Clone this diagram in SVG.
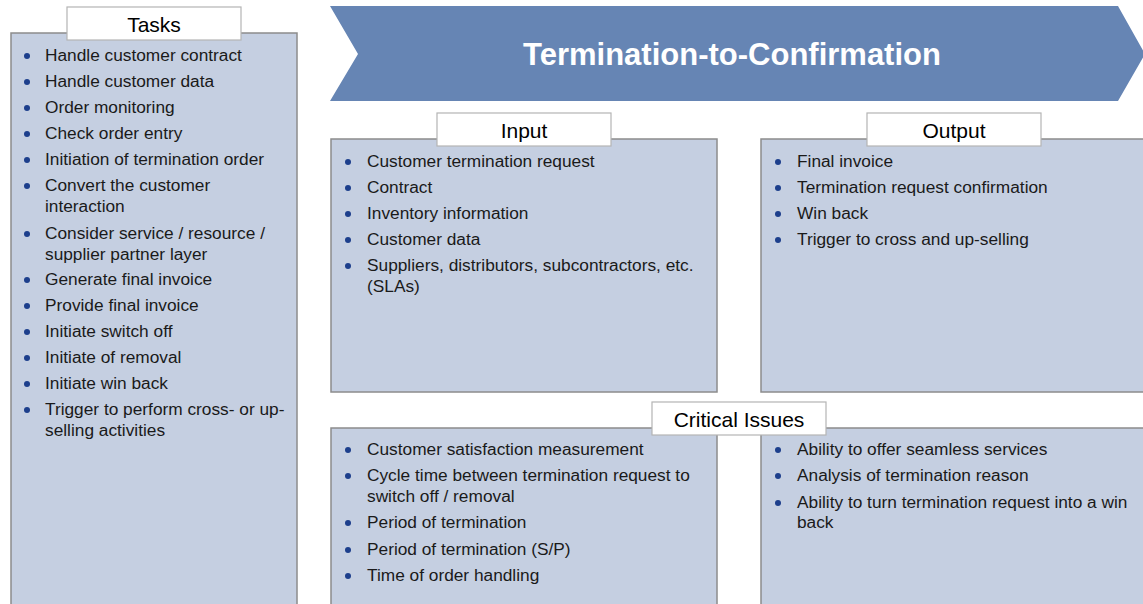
<svg xmlns="http://www.w3.org/2000/svg" width="1143" height="604" viewBox="0 0 1143 604">
<style>
.box{fill:#c5cfe1;stroke:#8c8c8c;stroke-width:1.5}
.lbl{fill:#ffffff;stroke:#b4b4b4;stroke-width:1.2}
.lt{font-family:"Liberation Sans",Arial,sans-serif;font-size:21px;fill:#000;text-anchor:middle}
.t{font-family:"Liberation Sans",Arial,sans-serif;font-size:17.3px;fill:#1a1a1a}
.b{fill:#1d3f8c}
</style>
<rect width="1143" height="604" fill="#fff"/>
<g id="header">
<polygon points="330,6 1118,6 1145,54 1118,101 330,101 358,54" fill="#6685b4"/>
<text x="732" y="65" text-anchor="middle" font-family="'Liberation Sans',Arial,sans-serif" font-size="31" font-weight="bold" fill="#fff">Termination-to-Confirmation</text>
</g>
<g id="tasks">
<rect class="box" x="11" y="33" width="286" height="580"/>
<rect class="lbl" x="67" y="7" width="174" height="33"/>
<text class="lt" x="154" y="32">Tasks</text>
<g class="b">
<circle cx="27" cy="56" r="3"/><circle cx="27" cy="82" r="3"/><circle cx="27" cy="108" r="3"/><circle cx="27" cy="134" r="3"/><circle cx="27" cy="160" r="3"/><circle cx="27" cy="186" r="3"/><circle cx="27" cy="234" r="3"/><circle cx="27" cy="280" r="3"/><circle cx="27" cy="306" r="3"/><circle cx="27" cy="332" r="3"/><circle cx="27" cy="358" r="3"/><circle cx="27" cy="384" r="3"/><circle cx="27" cy="410" r="3"/>
</g>
<text class="t" x="45" y="61">Handle customer contract</text>
<text class="t" x="45" y="87">Handle customer data</text>
<text class="t" x="45" y="113">Order monitoring</text>
<text class="t" x="45" y="139">Check order entry</text>
<text class="t" x="45" y="165">Initiation of termination order</text>
<text class="t" x="45" y="191">Convert the customer</text>
<text class="t" x="45" y="212">interaction</text>
<text class="t" x="45" y="239">Consider service / resource /</text>
<text class="t" x="45" y="260">supplier partner layer</text>
<text class="t" x="45" y="285">Generate final invoice</text>
<text class="t" x="45" y="311">Provide final invoice</text>
<text class="t" x="45" y="337">Initiate switch off</text>
<text class="t" x="45" y="363">Initiate of removal</text>
<text class="t" x="45" y="389">Initiate win back</text>
<text class="t" x="45" y="415">Trigger to perform cross- or up-</text>
<text class="t" x="45" y="436">selling activities</text>
</g>
<g id="input">
<rect class="box" x="331" y="139" width="386" height="253"/>
<rect class="lbl" x="437" y="113" width="174" height="33"/>
<text class="lt" x="524" y="138">Input</text>
<g class="b">
<circle cx="348" cy="162" r="3"/><circle cx="348" cy="188" r="3"/><circle cx="348" cy="214" r="3"/><circle cx="348" cy="240" r="3"/><circle cx="348" cy="266" r="3"/>
</g>
<text class="t" x="367" y="167">Customer termination request</text>
<text class="t" x="367" y="193">Contract</text>
<text class="t" x="367" y="219">Inventory information</text>
<text class="t" x="367" y="245">Customer data</text>
<text class="t" x="367" y="271">Suppliers, distributors, subcontractors, etc.</text>
<text class="t" x="367" y="292">(SLAs)</text>
</g>
<g id="output">
<rect class="box" x="761" y="139" width="390" height="253"/>
<rect class="lbl" x="867" y="113" width="174" height="33"/>
<text class="lt" x="954" y="138">Output</text>
<g class="b">
<circle cx="778" cy="162" r="3"/><circle cx="778" cy="188" r="3"/><circle cx="778" cy="214" r="3"/><circle cx="778" cy="240" r="3"/>
</g>
<text class="t" x="797" y="167">Final invoice</text>
<text class="t" x="797" y="193">Termination request confirmation</text>
<text class="t" x="797" y="219">Win back</text>
<text class="t" x="797" y="245">Trigger to cross and up-selling</text>
</g>
<g id="critical-issues">
<rect class="box" x="331" y="428" width="386" height="190"/>
<rect class="box" x="761" y="428" width="390" height="190"/>
<rect class="lbl" x="652" y="402" width="174" height="33"/>
<text class="lt" x="739" y="427">Critical Issues</text>
<g class="b">
<circle cx="348" cy="450" r="3"/><circle cx="348" cy="476" r="3"/><circle cx="348" cy="523" r="3"/><circle cx="348" cy="550" r="3"/><circle cx="348" cy="576" r="3"/>
<circle cx="778" cy="450" r="3"/><circle cx="778" cy="476" r="3"/><circle cx="778" cy="503" r="3"/>
</g>
<text class="t" x="367" y="455">Customer satisfaction measurement</text>
<text class="t" x="367" y="481">Cycle time between termination request to</text>
<text class="t" x="367" y="502">switch off / removal</text>
<text class="t" x="367" y="528">Period of termination</text>
<text class="t" x="367" y="555">Period of termination (S/P)</text>
<text class="t" x="367" y="581">Time of order handling</text>
<text class="t" x="797" y="455">Ability to offer seamless services</text>
<text class="t" x="797" y="481">Analysis of termination reason</text>
<text class="t" x="797" y="508">Ability to turn termination request into a win</text>
<text class="t" x="797" y="528">back</text>
</g>
</svg>
